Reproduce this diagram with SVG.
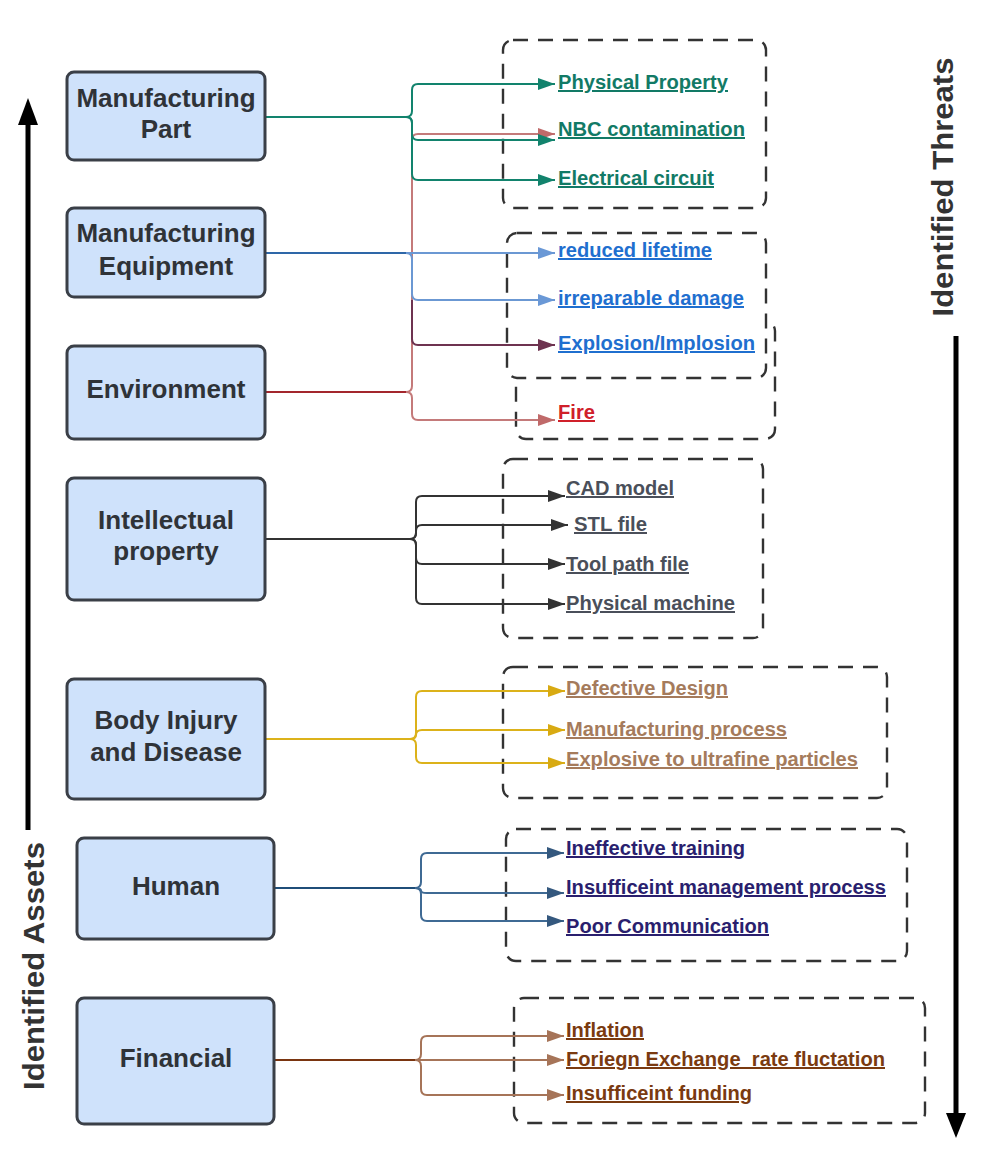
<svg xmlns="http://www.w3.org/2000/svg" width="992" height="1166" viewBox="0 0 992 1166">
<defs>
<style>
.node rect{fill:#cfe2fb;stroke:#3a3f47;stroke-width:3}
.nt{font-family:"Liberation Sans",Arial,sans-serif;font-weight:bold;font-size:26px;fill:#2f3338;text-anchor:middle}
.grp{fill:#fff;stroke:#333;stroke-width:2.4;stroke-dasharray:15 10}
.lbl{font-family:"Liberation Sans",Arial,sans-serif;font-weight:bold;font-size:20px;text-decoration:underline}
.ax{font-family:"Liberation Sans",Arial,sans-serif;font-weight:bold;font-size:30px;fill:#333;text-anchor:middle}
.c{fill:none;stroke-width:2}
</style>
<marker id="mGreen" markerUnits="userSpaceOnUse" markerWidth="17" markerHeight="12" refX="17" refY="6" orient="auto"><path d="M0,0 L17,6 L0,12 z" fill="#12836d"/></marker>
<marker id="mBlue" markerUnits="userSpaceOnUse" markerWidth="17" markerHeight="12" refX="17" refY="6" orient="auto"><path d="M0,0 L17,6 L0,12 z" fill="#6a98d6"/></marker>
<marker id="mMaroon" markerUnits="userSpaceOnUse" markerWidth="17" markerHeight="12" refX="17" refY="6" orient="auto"><path d="M0,0 L17,6 L0,12 z" fill="#6e3350"/></marker>
<marker id="mPink" markerUnits="userSpaceOnUse" markerWidth="17" markerHeight="12" refX="17" refY="6" orient="auto"><path d="M0,0 L17,6 L0,12 z" fill="#c06a6a"/></marker>
<marker id="mDark" markerUnits="userSpaceOnUse" markerWidth="17" markerHeight="12" refX="17" refY="6" orient="auto"><path d="M0,0 L17,6 L0,12 z" fill="#333"/></marker>
<marker id="mYellow" markerUnits="userSpaceOnUse" markerWidth="17" markerHeight="12" refX="17" refY="6" orient="auto"><path d="M0,0 L17,6 L0,12 z" fill="#d8aa12"/></marker>
<marker id="mNavy" markerUnits="userSpaceOnUse" markerWidth="17" markerHeight="12" refX="17" refY="6" orient="auto"><path d="M0,0 L17,6 L0,12 z" fill="#34587e"/></marker>
<marker id="mBrown" markerUnits="userSpaceOnUse" markerWidth="17" markerHeight="12" refX="17" refY="6" orient="auto"><path d="M0,0 L17,6 L0,12 z" fill="#a67458"/></marker>
</defs>
<rect width="992" height="1166" fill="#fff"/>

<g id="axes">
<line x1="28" y1="830" x2="28" y2="120" stroke="#000" stroke-width="5"/>
<polygon points="28,98 18,125 38,125" fill="#000"/>
<text class="ax" transform="translate(44,966) rotate(-90)" textLength="248" lengthAdjust="spacingAndGlyphs">Identified Assets</text>
<line x1="956" y1="336" x2="956" y2="1115" stroke="#000" stroke-width="5"/>
<polygon points="956,1138 946,1113 966,1113" fill="#000"/>
<text class="ax" transform="translate(953,187) rotate(-90)" textLength="259" lengthAdjust="spacingAndGlyphs">Identified Threats</text>
</g>

<g id="groups">
<rect class="grp" x="503" y="40" width="263" height="168" rx="10"/>
<rect class="grp" x="516" y="321" width="259" height="118" rx="10"/>
<rect class="grp" x="507" y="233" width="259" height="145" rx="10"/>
<rect class="grp" x="503" y="459" width="260" height="179" rx="10"/>
<rect class="grp" x="503" y="667" width="384" height="131" rx="10"/>
<rect class="grp" x="506" y="829" width="401" height="132" rx="10"/>
<rect class="grp" x="514" y="998" width="411" height="125" rx="10"/>
</g>

<g id="connectors">
<!-- Environment -->
<path class="c" stroke="#c47a7a" d="M406,392 Q412,392 412,386 L412,140 Q412,134 418,134 L555,134" marker-end="url(#mPink)"/>
<path class="c" stroke="#c47a7a" d="M406,392 Q412,392 412,398 L412,414 Q412,420 418,420 L555,420" marker-end="url(#mPink)"/>
<path class="c" stroke="#a3262d" d="M265,392 L406,392"/>
<!-- Manufacturing Part -->
<path class="c" stroke="#12836d" d="M265,117 L406,117"/>
<path class="c" stroke="#12836d" d="M406,117 Q412,117 412,111 L412,90 Q412,84 418,84 L555,84" marker-end="url(#mGreen)"/>
<path class="c" stroke="#12836d" d="M406,117 Q412,117 412,123 L412,134 Q412,140 418,140 L555,140" marker-end="url(#mGreen)"/>
<path class="c" stroke="#12836d" d="M406,117 Q412,117 412,123 L412,174 Q412,180 418,180 L555,180" marker-end="url(#mGreen)"/>
<!-- Manufacturing Equipment -->
<path class="c" stroke="#2e67a8" d="M265,253 L406,253"/>
<path class="c" stroke="#6b98d3" d="M406,253 L555,253" marker-end="url(#mBlue)"/>
<path class="c" stroke="#6b98d3" d="M406,253 Q412,253 412,259 L412,294 Q412,300 418,300 L555,300" marker-end="url(#mBlue)"/>
<path class="c" stroke="#6e3350" d="M412,300 L412,339 Q412,345 418,345 L555,345" marker-end="url(#mMaroon)"/>
<!-- Intellectual property -->
<path class="c" stroke="#333" d="M265,539 L410,539"/>
<path class="c" stroke="#333" d="M410,539 Q416,539 416,533 L416,502 Q416,496 422,496 L565,496" marker-end="url(#mDark)"/>
<path class="c" stroke="#333" d="M410,539 Q416,539 416,533 L416,531 Q416,525 422,525 L568,525" marker-end="url(#mDark)"/>
<path class="c" stroke="#333" d="M410,539 Q416,539 416,545 L416,558 Q416,564 422,564 L565,564" marker-end="url(#mDark)"/>
<path class="c" stroke="#333" d="M410,539 Q416,539 416,545 L416,598 Q416,604 422,604 L565,604" marker-end="url(#mDark)"/>
<!-- Body Injury -->
<path class="c" stroke="#dcb21a" d="M265,739 L410,739"/>
<path class="c" stroke="#dcb21a" d="M410,739 Q416,739 416,733 L416,697 Q416,691 422,691 L565,691" marker-end="url(#mYellow)"/>
<path class="c" stroke="#dcb21a" d="M410,739 Q416,739 416,735 Q416,730 422,730 L565,730" marker-end="url(#mYellow)"/>
<path class="c" stroke="#dcb21a" d="M410,739 Q416,739 416,745 L416,757 Q416,763 422,763 L565,763" marker-end="url(#mYellow)"/>
<!-- Human -->
<path class="c" stroke="#1f4e79" d="M274,888 L415,888"/>
<path class="c" stroke="#3f6a94" d="M415,888 Q421,888 421,882 L421,859 Q421,853 427,853 L564,853" marker-end="url(#mNavy)"/>
<path class="c" stroke="#3f6a94" d="M415,888 Q421,888 421,890.5 Q421,893 427,893 L564,893" marker-end="url(#mNavy)"/>
<path class="c" stroke="#3f6a94" d="M415,888 Q421,888 421,894 L421,915 Q421,921 427,921 L564,921" marker-end="url(#mNavy)"/>
<!-- Financial -->
<path class="c" stroke="#7a3510" d="M274,1060 L415,1060"/>
<path class="c" stroke="#a67458" d="M415,1060 Q421,1060 421,1054 L421,1042 Q421,1036 427,1036 L564,1036" marker-end="url(#mBrown)"/>
<path class="c" stroke="#a67458" d="M415,1060 L564,1060" marker-end="url(#mBrown)"/>
<path class="c" stroke="#a67458" d="M415,1060 Q421,1060 421,1066 L421,1089 Q421,1095 427,1095 L564,1095" marker-end="url(#mBrown)"/>
</g>

<g id="node-manufacturing-part" class="node">
<rect x="67" y="72" width="198" height="88" rx="7"/>
<text class="nt" x="166" y="107">Manufacturing</text>
<text class="nt" x="166" y="138">Part</text>
</g>
<g id="node-manufacturing-equipment" class="node">
<rect x="67" y="208" width="198" height="89" rx="7"/>
<text class="nt" x="166" y="242">Manufacturing</text>
<text class="nt" x="166" y="275">Equipment</text>
</g>
<g id="node-environment" class="node">
<rect x="67" y="346" width="198" height="93" rx="7"/>
<text class="nt" x="166" y="398">Environment</text>
</g>
<g id="node-intellectual-property" class="node">
<rect x="67" y="478" width="198" height="122" rx="7"/>
<text class="nt" x="166" y="529">Intellectual</text>
<text class="nt" x="166" y="560">property</text>
</g>
<g id="node-body-injury" class="node">
<rect x="67" y="679" width="198" height="120" rx="7"/>
<text class="nt" x="166" y="729">Body Injury</text>
<text class="nt" x="166" y="761">and Disease</text>
</g>
<g id="node-human" class="node">
<rect x="77" y="838" width="197" height="101" rx="7"/>
<text class="nt" x="176" y="895">Human</text>
</g>
<g id="node-financial" class="node">
<rect x="77" y="998" width="197" height="126" rx="7"/>
<text class="nt" x="176" y="1067">Financial</text>
</g>

<g id="threat-labels">
<text class="lbl" fill="#127a66" x="558" y="89" textLength="170" lengthAdjust="spacingAndGlyphs">Physical Property</text>
<text class="lbl" fill="#127a66" x="558" y="136" textLength="187" lengthAdjust="spacingAndGlyphs">NBC contamination</text>
<text class="lbl" fill="#127a66" x="558" y="185" textLength="156" lengthAdjust="spacingAndGlyphs">Electrical circuit</text>
<text class="lbl" fill="#1f6fcf" x="558" y="257" textLength="154" lengthAdjust="spacingAndGlyphs">reduced lifetime</text>
<text class="lbl" fill="#1f6fcf" x="558" y="305" textLength="186" lengthAdjust="spacingAndGlyphs">irreparable damage</text>
<text class="lbl" fill="#1f6fcf" x="558" y="350" textLength="197" lengthAdjust="spacingAndGlyphs">Explosion/Implosion</text>
<text class="lbl" fill="#d0202a" x="558" y="419" textLength="37" lengthAdjust="spacingAndGlyphs">Fire</text>
<text class="lbl" fill="#4a4f5a" x="566" y="495" textLength="108" lengthAdjust="spacingAndGlyphs">CAD model</text>
<text class="lbl" fill="#4a4f5a" x="574" y="531" textLength="73" lengthAdjust="spacingAndGlyphs">STL file</text>
<text class="lbl" fill="#4a4f5a" x="566" y="571" textLength="123" lengthAdjust="spacingAndGlyphs">Tool path file</text>
<text class="lbl" fill="#4a4f5a" x="566" y="610" textLength="169" lengthAdjust="spacingAndGlyphs">Physical machine</text>
<text class="lbl" fill="#a57b5c" x="566" y="695" textLength="162" lengthAdjust="spacingAndGlyphs">Defective Design</text>
<text class="lbl" fill="#a57b5c" x="566" y="736" textLength="221" lengthAdjust="spacingAndGlyphs">Manufacturing process</text>
<text class="lbl" fill="#a57b5c" x="566" y="766" textLength="292" lengthAdjust="spacingAndGlyphs">Explosive to ultrafine particles</text>
<text class="lbl" fill="#2a1f6e" x="566" y="855" textLength="179" lengthAdjust="spacingAndGlyphs">Ineffective training</text>
<text class="lbl" fill="#2a1f6e" x="566" y="894" textLength="320" lengthAdjust="spacingAndGlyphs">Insufficeint management process</text>
<text class="lbl" fill="#2a1f6e" x="566" y="933" textLength="203" lengthAdjust="spacingAndGlyphs">Poor Communication</text>
<text class="lbl" fill="#7a3a10" x="566" y="1037" textLength="78" lengthAdjust="spacingAndGlyphs">Inflation</text>
<text class="lbl" fill="#7a3a10" x="566" y="1066" textLength="319" lengthAdjust="spacingAndGlyphs" xml:space="preserve">Foriegn Exchange  rate fluctation</text>
<text class="lbl" fill="#7a3a10" x="566" y="1100" textLength="186" lengthAdjust="spacingAndGlyphs">Insufficeint funding</text>
</g>
</svg>
